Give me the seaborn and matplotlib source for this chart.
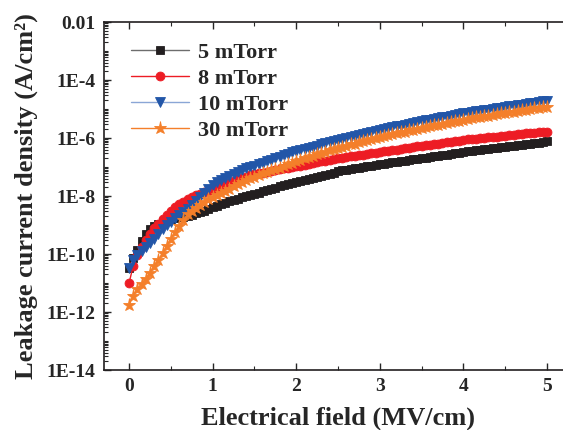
import numpy as np
import pandas as pd
import matplotlib
matplotlib.use("Agg")
import matplotlib.pyplot as plt
import seaborn as sns

# Electric field (MV/cm), sampled every 0.05
field = [round(0.05 * i, 2) for i in range(101)]

# log10 of leakage current density (A/cm^2) for each deposition pressure
log_j_5 = [
    -10.48, -10.15, -9.86, -9.55, -9.30, -9.15, -9.05, -8.97, -8.90, -8.85,
    -8.81, -8.77, -8.74, -8.72, -8.69, -8.65, -8.60, -8.55, -8.50, -8.44,
    -8.38, -8.33, -8.28, -8.23, -8.18, -8.14, -8.10, -8.05, -8.01, -7.97,
    -7.93, -7.88, -7.84, -7.80, -7.76, -7.71, -7.67, -7.63, -7.60, -7.55,
    -7.50, -7.47, -7.44, -7.41, -7.38, -7.34, -7.30, -7.26, -7.23, -7.19,
    -7.15, -7.12, -7.10, -7.07, -7.05, -7.02, -7.00, -6.97, -6.95, -6.92,
    -6.90, -6.88, -6.86, -6.84, -6.82, -6.80, -6.78, -6.76, -6.74, -6.72,
    -6.70, -6.68, -6.66, -6.63, -6.61, -6.59, -6.57, -6.54, -6.52, -6.50,
    -6.48, -6.46, -6.44, -6.42, -6.41, -6.39, -6.37, -6.35, -6.34, -6.32,
    -6.30, -6.28, -6.27, -6.25, -6.23, -6.21, -6.19, -6.17, -6.16, -6.14,
    -6.12]
log_j_8 = [
    -11.00, -10.40, -10.05, -9.75, -9.50, -9.30, -9.12, -8.96, -8.80, -8.65,
    -8.50, -8.39, -8.28, -8.20, -8.12, -8.05, -7.98, -7.92, -7.87, -7.82,
    -7.77, -7.71, -7.65, -7.60, -7.54, -7.48, -7.43, -7.38, -7.33, -7.29,
    -7.25, -7.22, -7.19, -7.16, -7.13, -7.10, -7.08, -7.05, -7.03, -7.00,
    -6.98, -6.95, -6.92, -6.90, -6.87, -6.84, -6.81, -6.79, -6.76, -6.73,
    -6.70, -6.68, -6.66, -6.63, -6.61, -6.59, -6.57, -6.54, -6.52, -6.50,
    -6.48, -6.46, -6.44, -6.42, -6.40, -6.37, -6.35, -6.33, -6.31, -6.29,
    -6.27, -6.25, -6.23, -6.21, -6.19, -6.17, -6.15, -6.13, -6.11, -6.09,
    -6.07, -6.05, -6.04, -6.02, -6.01, -5.99, -5.98, -5.96, -5.95, -5.93,
    -5.92, -5.90, -5.89, -5.87, -5.86, -5.84, -5.83, -5.82, -5.81, -5.79,
    -5.78]
log_j_10 = [
    -10.48, -10.22, -10.05, -9.90, -9.76, -9.62, -9.48, -9.31, -9.14, -9.01,
    -8.88, -8.76, -8.65, -8.55, -8.45, -8.32, -8.18, -8.04, -7.90, -7.76,
    -7.62, -7.53, -7.45, -7.37, -7.30, -7.23, -7.17, -7.11, -7.05, -7.00,
    -6.95, -6.90, -6.85, -6.80, -6.75, -6.69, -6.64, -6.59, -6.54, -6.49,
    -6.44, -6.40, -6.37, -6.33, -6.30, -6.26, -6.22, -6.18, -6.14, -6.10,
    -6.07, -6.03, -6.00, -5.96, -5.93, -5.89, -5.86, -5.82, -5.79, -5.75,
    -5.72, -5.69, -5.66, -5.63, -5.60, -5.57, -5.54, -5.51, -5.48, -5.45,
    -5.42, -5.39, -5.37, -5.34, -5.31, -5.28, -5.26, -5.23, -5.20, -5.17,
    -5.15, -5.13, -5.11, -5.08, -5.06, -5.04, -5.02, -4.99, -4.97, -4.95,
    -4.93, -4.91, -4.89, -4.87, -4.85, -4.82, -4.80, -4.78, -4.76, -4.74,
    -4.72]
log_j_30 = [
    -11.76, -11.45, -11.20, -11.02, -10.85, -10.64, -10.42, -10.20, -9.98, -9.72,
    -9.47, -9.25, -9.04, -8.83, -8.63, -8.51, -8.40, -8.30, -8.20, -8.11,
    -8.03, -7.96, -7.90, -7.82, -7.75, -7.67, -7.60, -7.52, -7.45, -7.39,
    -7.33, -7.27, -7.22, -7.17, -7.12, -7.07, -7.02, -6.96, -6.91, -6.85,
    -6.80, -6.75, -6.70, -6.65, -6.61, -6.56, -6.52, -6.47, -6.43, -6.38,
    -6.34, -6.30, -6.26, -6.22, -6.19, -6.15, -6.11, -6.07, -6.04, -6.00,
    -5.97, -5.94, -5.91, -5.87, -5.84, -5.81, -5.78, -5.74, -5.71, -5.68,
    -5.65, -5.62, -5.59, -5.56, -5.54, -5.51, -5.48, -5.45, -5.43, -5.40,
    -5.37, -5.34, -5.32, -5.29, -5.27, -5.25, -5.23, -5.20, -5.18, -5.15,
    -5.13, -5.11, -5.09, -5.07, -5.05, -5.02, -5.00, -4.98, -4.96, -4.94,
    -4.92]

labels = ["5 mTorr", "8 mTorr", "10 mTorr", "30 mTorr"]
y_ticks = [1e-14, 1e-12, 1e-10, 1e-8, 1e-6, 1e-4, 1e-2]
y_tick_labels = ["1E-14", "1E-12", "1E-10", "1E-8", "1E-6", "1E-4", "0.01"]
x_ticks = [0, 1, 2, 3, 4, 5]

sns.set_theme(style="ticks")
plt.rcParams["font.family"] = ["Liberation Serif", "DejaVu Serif"]
plt.rcParams["font.weight"] = "bold"

series = [
    (labels[0], log_j_5, "#231f20", "#6d6d6d", "s", 5.8),
    (labels[1], log_j_8, "#ed1c24", "#ed1c24", "o", 6.4),
    (labels[2], log_j_10, "#2256a8", "#8aa6d6", "v", 7.0),
    (labels[3], log_j_30, "#f47f2a", "#f47f2a", "*", 9.5),
]

fig = plt.figure(figsize=(5.63, 4.30), dpi=100)
ax = fig.add_axes([104 / 563, 60 / 430, 468 / 563, 348 / 430])

for name, logs, mcolor, lcolor, marker, ms in series:
    df = pd.DataFrame({"E": field, "J": np.power(10.0, logs)})
    sns.lineplot(data=df, x="E", y="J", ax=ax, color=lcolor, linewidth=1.0,
                 marker=marker, markersize=ms, markerfacecolor=mcolor,
                 markeredgecolor=mcolor, markeredgewidth=0.6, label=name)

ax.set_yscale("log")
ax.set_ylim(1e-14, 1e-2)
ax.set_xlim(-0.3, 5.3)
ax.set_yticks(y_ticks)
ax.set_yticklabels(y_tick_labels)
ax.yaxis.set_minor_locator(matplotlib.ticker.LogLocator(base=10, subs=np.arange(1, 10), numticks=40))
ax.yaxis.set_minor_formatter(matplotlib.ticker.NullFormatter())
ax.set_xticks(x_ticks)
ax.set_xticklabels([str(v) for v in x_ticks])
ax.xaxis.set_minor_locator(matplotlib.ticker.MultipleLocator(0.5))

ax.tick_params(axis="both", which="major", direction="in", length=5, width=1,
               labelsize=14, pad=6, top=True, right=False)
ax.tick_params(axis="both", which="minor", direction="in", length=3, width=0.8,
               top=True, right=False)
for lab in ax.get_xticklabels() + ax.get_yticklabels():
    lab.set_fontweight("bold")

for side in ["left", "bottom", "top"]:
    ax.spines[side].set_linewidth(1.2)
    ax.spines[side].set_color("#231f20")
ax.spines["right"].set_visible(False)

ax.set_xlabel("Electrical field (MV/cm)", fontsize=19, fontweight="bold", labelpad=8)
ax.set_ylabel("Leakage current density (A/cm²)", fontsize=19,
              fontweight="bold", labelpad=6)

leg = ax.legend(loc="upper left", bbox_to_anchor=(0.03, 0.98), frameon=False,
                prop={"size": 16, "weight": "bold"}, handlelength=2.6,
                handletextpad=0.4, labelspacing=0.25, borderaxespad=0.2)

fig.savefig("out.png", dpi=100)
